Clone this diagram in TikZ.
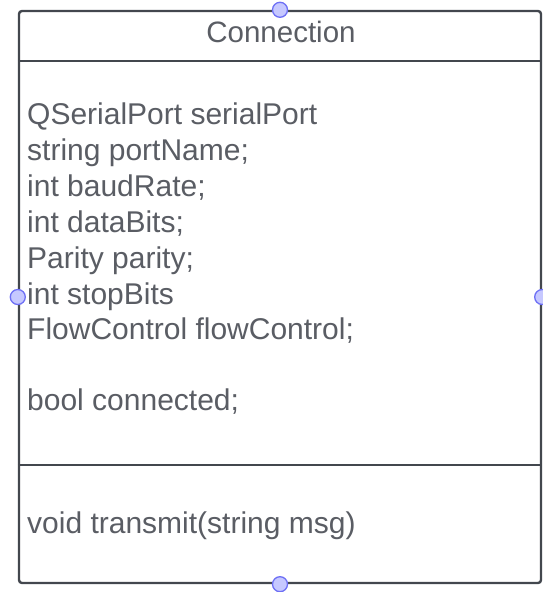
\documentclass[tikz,border=0pt]{standalone}
\usepackage{fontspec}
\setmainfont{Liberation Sans}
\definecolor{frameclr}{HTML}{43474E}
\definecolor{txtclr}{HTML}{5A5D64}
\definecolor{portfill}{HTML}{C6C8FF}
\definecolor{portline}{HTML}{6E70F5}
\begin{document}
\begin{tikzpicture}[x=1pt,y=-1pt,
  classbox/.style={draw=frameclr, line width=2.4pt, rounded corners=3pt, fill=white, inner sep=0pt},
  divider/.style={draw=frameclr, line width=2.4pt},
  member/.style={text=txtclr, anchor=base west, inner sep=0pt, font=\fontsize{30}{34}\selectfont},
  title/.style={text=txtclr, anchor=base, inner sep=0pt, font=\fontsize{29.5}{34}\selectfont},
  port/.style={circle, draw=portline, fill=portfill, line width=1.3pt, minimum size=15pt, inner sep=0pt}]
\useasboundingbox (0,0) rectangle (543,592);
% class frame
\node[classbox, minimum width=522pt, minimum height=572pt] (box) at (280,297) {};
\draw[divider] (box.west |- 0,61) -- (box.east |- 0,61);
\draw[divider] (box.west |- 0,465) -- (box.east |- 0,465);
% class name
\node[title] (name) at (281,42) {Connection};
% attributes
\node[member] (a1) at (27,124) {QSerialPort serialPort};
\node[member] (a2) at (27,160) {string portName;};
\node[member] (a3) at (27,196) {int baudRate;};
\node[member] (a4) at (27,232) {int dataBits;};
\node[member] (a5) at (27,268) {Parity parity;};
\node[member] (a6) at (27,304) {int stopBits};
\node[member] (a7) at (27,339) {FlowControl flowControl;};
\node[member] (a8) at (27,410) {bool connected;};
% operations
\node[member] (m1) at (27,533) {void transmit(string msg)};
% connection points
\node[port] (pn) at (box.north) {};
\node[port] (ps) at (box.south) {};
\node[port] (pw) at (box.west) {};
\node[port] (pe) at (box.east) {};
\end{tikzpicture}
\end{document}
